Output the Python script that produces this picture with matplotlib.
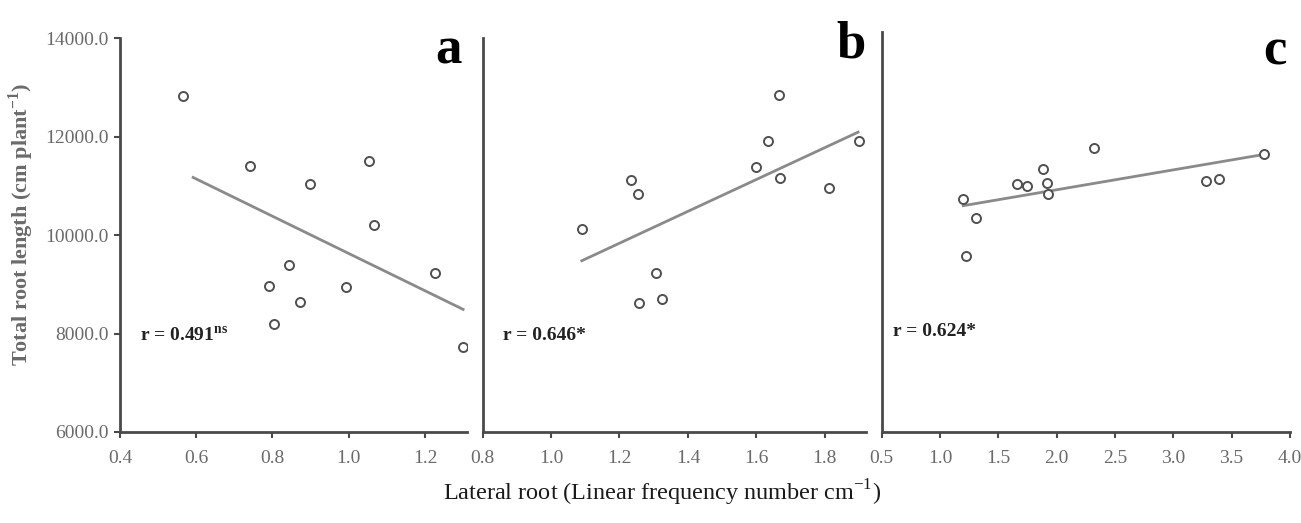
import matplotlib.pyplot as plt
import numpy as np

plt.rcParams['font.family'] = 'Liberation Serif'
plt.rcParams['mathtext.fontset'] = 'custom'
plt.rcParams['mathtext.rm'] = 'Liberation Serif'
plt.rcParams['mathtext.bf'] = 'Liberation Serif:bold'

# panel a
xa = [0.565, 0.741, 0.898, 1.054, 1.067, 0.844, 0.792, 0.871, 0.803, 0.994, 1.227, 1.300]
ya = [12829, 11401, 11042, 11496, 10203, 9397, 8971, 8646, 8193, 8938, 9235, 7732]
fit_a_x = [0.592, 1.300]
fit_a_y = [11171, 8491]

# panel b
xb = [1.090, 1.234, 1.253, 1.307, 1.256, 1.324, 1.599, 1.634, 1.666, 1.670, 1.812, 1.900]
yb = [10116, 11123, 10826, 9228, 8613, 8707, 11374, 11909, 12836, 11164, 10961, 11902]
fit_b_x = [1.090, 1.897]
fit_b_y = [9479, 12091]

# panel c
xc = [1.200, 1.311, 1.223, 1.663, 1.744, 1.881, 1.915, 1.929, 2.321, 3.281, 3.390, 3.781]
yc = [10725, 10351, 9567, 11029, 10995, 11347, 11063, 10832, 11773, 11096, 11137, 11638]
fit_c_x = [1.200, 3.780]
fit_c_y = [10596, 11638]

panels = [
    (xa, ya, fit_a_x, fit_a_y, (0.4, 1.31), [0.4, 0.6, 0.8, 1.0, 1.2], 'a', r'r = 0.491$^{\mathbf{ns}}$'),
    (xb, yb, fit_b_x, fit_b_y, (0.8, 1.92), [0.8, 1.0, 1.2, 1.4, 1.6, 1.8], 'b', 'r = 0.646*'),
    (xc, yc, fit_c_x, fit_c_y, (0.5, 4.0), [0.5, 1.0, 1.5, 2.0, 2.5, 3.0, 3.5, 4.0], 'c', 'r = 0.624*'),
]
rects = [[0.0922, 0.174, 0.2667, 0.753],
         [0.3709, 0.174, 0.2947, 0.753],
         [0.6777, 0.174, 0.3138, 0.765]]
r_pos = [(0.058, 0.245), (0.053, 0.245), (0.028, 0.25)]
letter_pos = [(0.986, 1.03), (1.0, 1.045), (0.993, 1.01)]

fig = plt.figure(figsize=(13.01, 5.23), dpi=100)
axis_col = '#4a4a4a'
for i, (x, y, fx, fy, xlim, xt, letter, rtxt) in enumerate(panels):
    ax = fig.add_axes(rects[i])
    ax.plot(x, y, 'o', mfc='white', mec='#505050', ms=6.5, mew=1.4, zorder=3)
    ax.plot(fx, fy, '-', color='#8a8a8a', lw=2)
    ax.set_xlim(*xlim)
    ax.set_ylim(6000, 14000 if i < 2 else 14125)
    ax.set_xticks(xt)
    ax.set_xticklabels(['%.1f' % v for v in xt])
    ax.spines['top'].set_visible(False)
    ax.spines['right'].set_visible(False)
    for s in ['left', 'bottom']:
        ax.spines[s].set_color(axis_col)
        ax.spines[s].set_linewidth(2)
    ax.tick_params(axis='x', direction='out', length=4, width=1.5, colors=axis_col,
                   labelcolor='#6a6a6a', labelsize=14, pad=9)
    if i == 0:
        yt = [6000, 8000, 10000, 12000, 14000]
        ax.set_yticks(yt)
        ax.set_yticklabels(['%.1f' % v for v in yt])
        ax.tick_params(axis='y', direction='out', length=4, width=1.5, colors=axis_col,
                       labelcolor='#6a6a6a', labelsize=14, pad=4)
    else:
        ax.set_yticks([])
    ax.set_facecolor('none')
    ax.text(r_pos[i][0], r_pos[i][1], rtxt, transform=ax.transAxes, fontsize=14,
            fontweight='bold', color='#222222', ha='left', va='center')
    ax.text(letter_pos[i][0], letter_pos[i][1], letter, transform=ax.transAxes, fontsize=38,
            fontweight='bold', color='black', ha='right', va='top', clip_on=False)

fig.text(0.016, 0.57, r'Total root length (cm plant$^{\mathbf{-1}}$)', rotation=90,
         fontsize=16, fontweight='bold', color='#6a6a6a', ha='center', va='center')
fig.text(0.509, 0.057, r'Lateral root (Linear frequency number cm$^{-1}$)',
         fontsize=17.5, color='#1a1a1a', ha='center', va='center')

plt.savefig('out.png', dpi=100)
